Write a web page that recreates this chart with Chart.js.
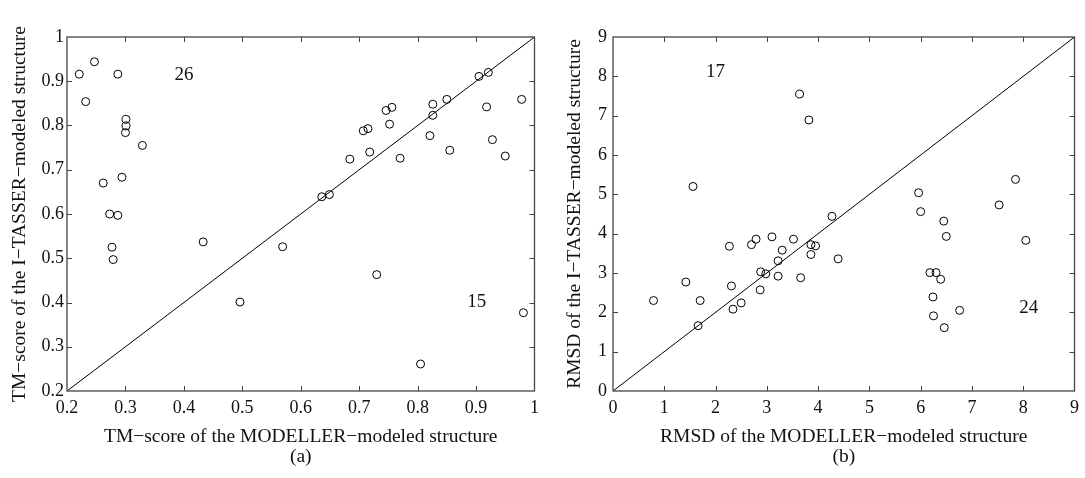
<!DOCTYPE html>
<html lang="en">
<head>
<meta charset="UTF-8">
<title>MODELLER vs I-TASSER</title>
<script src="https://cdn.jsdelivr.net/npm/chart.js"></script>
<style>
  body { margin: 0; background: #fff; }
  .wrap { position: relative; width: 1085px; height: 478px; }
  canvas { position: absolute; top: 0; }
  #tmChart { left: 0; }
  #rmsdChart { left: 545px; }
</style>
</head>
<body>
<div class="wrap">
  <canvas id="tmChart" width="545" height="478"></canvas>
  <canvas id="rmsdChart" width="540" height="478"></canvas>
</div>
<script>
// (a) TM-score: MODELLER (x) vs I-TASSER (y)
const tmModeller = [0.221, 0.247, 0.287, 0.232, 0.301, 0.301, 0.300, 0.329, 0.262, 0.294, 0.273, 0.287, 0.277, 0.279,
  0.433, 0.496, 0.569, 0.636, 0.649, 0.684, 0.718, 0.707, 0.715, 0.746, 0.756, 0.752, 0.770, 0.821, 0.826, 0.826,
  0.850, 0.855, 0.905, 0.921, 0.918, 0.928, 0.950, 0.978, 0.730, 0.805, 0.981];
const tmItasser = [0.916, 0.944, 0.916, 0.854, 0.814, 0.799, 0.784, 0.755, 0.670, 0.683, 0.600, 0.597, 0.525, 0.497,
  0.537, 0.401, 0.526, 0.639, 0.644, 0.724, 0.740, 0.788, 0.793, 0.834, 0.841, 0.803, 0.726, 0.777, 0.848, 0.823,
  0.859, 0.744, 0.911, 0.920, 0.842, 0.768, 0.731, 0.859, 0.463, 0.261, 0.377];
const tmTicks = [0.2, 0.3, 0.4, 0.5, 0.6, 0.7, 0.8, 0.9, 1];
const tmCounts = [{ text: '26', x: 0.40, y: 0.914 }, { text: '15', x: 0.901, y: 0.40 }];

// (b) RMSD: MODELLER (x) vs I-TASSER (y)
const rmsdModeller = [1.56, 3.64, 3.82, 4.27, 5.96, 6.00, 6.45, 6.50, 7.53, 7.85, 8.05,
  3.86, 3.95, 3.86, 4.39, 3.66, 6.18, 6.30, 6.39, 6.24, 6.25, 6.76, 6.46,
  0.79, 1.42, 1.70, 1.66, 2.27, 2.31, 2.34, 2.50, 2.70, 2.79, 3.10, 2.88, 2.98, 2.87, 3.22, 3.30, 3.22, 3.52];
const rmsdItasser = [5.20, 7.55, 6.89, 4.44, 5.04, 4.56, 4.32, 3.93, 4.73, 5.38, 3.83,
  3.72, 3.69, 3.47, 3.36, 2.88, 3.01, 3.01, 2.84, 2.39, 1.91, 2.05, 1.61,
  2.30, 2.77, 2.30, 1.66, 3.68, 2.67, 2.08, 2.24, 3.72, 3.86, 3.92, 3.03, 2.98, 2.57, 3.31, 3.58, 2.92, 3.86];
const rmsdTicks = [0, 1, 2, 3, 4, 5, 6, 7, 8, 9];
const rmsdCounts = [{ text: '17', x: 2.0, y: 8.1 }, { text: '24', x: 8.11, y: 2.12 }];

const serif = '"Liberation Serif", "Times New Roman", serif';
const ink = '#111';

// box, inward ticks, count labels and the rotated y title
const framePlugin = {
  id: 'frame',
  afterDraw(chart) {
    const { ctx, chartArea: a, scales: { x, y } } = chart;
    const o = chart.options.plugins.frame;
    ctx.save();
    ctx.strokeStyle = '#444';
    ctx.lineWidth = 1.3;
    ctx.strokeRect(a.left, a.top, a.right - a.left, a.bottom - a.top);
    ctx.lineWidth = 1;
    ctx.beginPath();
    o.ticks.slice(1, -1).forEach(v => {
      const px = Math.round(x.getPixelForValue(v)) + 0.5;
      ctx.moveTo(px, a.bottom); ctx.lineTo(px, a.bottom - 5);
      ctx.moveTo(px, a.top); ctx.lineTo(px, a.top + 5);
      const py = Math.round(y.getPixelForValue(v)) + 0.5;
      ctx.moveTo(a.left, py); ctx.lineTo(a.left + 5, py);
      ctx.moveTo(a.right, py); ctx.lineTo(a.right - 5, py);
    });
    ctx.stroke();

    ctx.fillStyle = ink;
    ctx.font = '19px ' + serif;
    ctx.textAlign = 'center';
    ctx.textBaseline = 'middle';
    o.counts.forEach(c => {
      ctx.fillText(c.text, x.getPixelForValue(c.x), y.getPixelForValue(c.y));
    });

    ctx.font = '19.5px ' + serif;
    ctx.translate(o.yTitleX, (a.top + a.bottom) / 2);
    ctx.rotate(-Math.PI / 2);
    ctx.fillText(o.yTitle, 0, 0);
    ctx.restore();
  }
};

function makeChart(id, xs, ys, ticks, counts, xTitle, yTitle, caption, yWidth, yPad, yTitleX, padRight) {
  const lo = ticks[0], hi = ticks[ticks.length - 1];
  const fmt = v => String(+v.toFixed(1));
  const setTicks = s => { s.ticks = ticks.map(v => ({ value: v })); };
  return new Chart(document.getElementById(id), {
    type: 'scatter',
    data: {
      datasets: [{
        data: xs.map((v, i) => ({ x: v, y: ys[i] })),
        pointStyle: 'circle',
        pointRadius: 4,
        pointHoverRadius: 4,
        borderColor: '#000',
        borderWidth: 1,
        backgroundColor: 'rgba(0,0,0,0)'
      }, {
        type: 'line',
        data: [{ x: lo, y: lo }, { x: hi, y: hi }],
        borderColor: '#000',
        borderWidth: 1,
        pointRadius: 0,
        fill: false
      }]
    },
    options: {
      responsive: false,
      animation: false,
      layout: { padding: { top: 37, right: padRight, bottom: 0, left: 0 } },
      plugins: {
        legend: { display: false },
        tooltip: { enabled: false },
        frame: { ticks: ticks, counts: counts, yTitle: yTitle, yTitleX: yTitleX }
      },
      scales: {
        x: {
          type: 'linear', min: lo, max: hi,
          afterBuildTicks: setTicks,
          afterFit: s => { s.height = 87; },
          grid: { display: false, drawTicks: false },
          border: { display: false },
          ticks: { padding: 6, color: ink, font: { family: serif, size: 18 }, callback: fmt, maxRotation: 0 },
          title: {
            display: true, text: [xTitle, caption], color: ink,
            font: { family: serif, size: 19.5, lineHeight: '20px' },
            padding: { top: 0, bottom: 11 }
          }
        },
        y: {
          type: 'linear', min: lo, max: hi,
          afterBuildTicks: setTicks,
          afterFit: s => { s.width = yWidth; },
          grid: { display: false, drawTicks: false },
          border: { display: false },
          ticks: { padding: yPad, color: ink, font: { family: serif, size: 18 }, callback: fmt }
        }
      }
    },
    plugins: [framePlugin]
  });
}

makeChart('tmChart', tmModeller, tmItasser, tmTicks, tmCounts,
  'TM\u2212score of the MODELLER\u2212modeled structure',
  'TM\u2212score of the I\u2212TASSER\u2212modeled structure', '(a)', 67, 3, 20, 9);
makeChart('rmsdChart', rmsdModeller, rmsdItasser, rmsdTicks, rmsdCounts,
  'RMSD of the MODELLER\u2212modeled structure',
  'RMSD of the I\u2212TASSER\u2212modeled structure', '(b)', 68, 6, 30, 8);
</script>
</body>
</html>
